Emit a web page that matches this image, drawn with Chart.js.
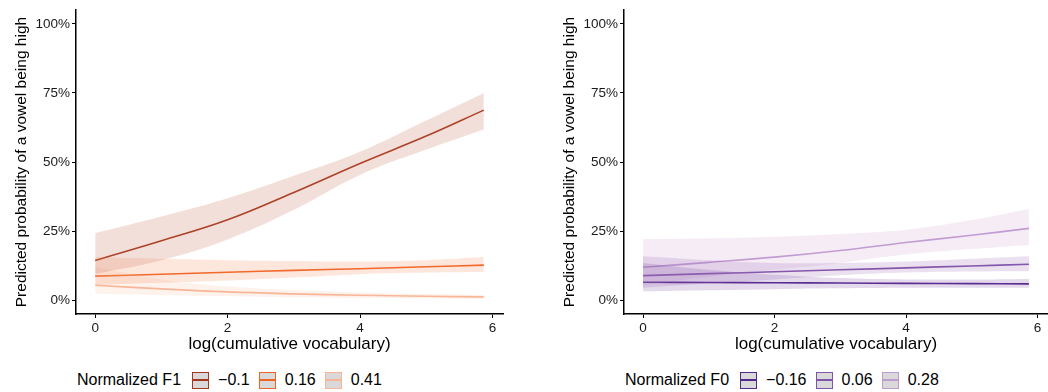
<!DOCTYPE html>
<html>
<head>
<meta charset="utf-8">
<script src="https://cdn.jsdelivr.net/npm/chart.js@4"></script>
<style>
  body { margin: 0; background: #fff; font-family: "Liberation Sans", Arial, sans-serif; }
  #wrap { position: relative; width: 1048px; height: 392px; overflow: hidden; }
  .panel { position: absolute; top: 0; height: 360px; }
  .legend { position: absolute; top: 371px; height: 18px; display: flex; align-items: center; font-size: 16px; color: #000; }
  .legend .ttl { margin-right: 11px; }
  .key { position: relative; width: 17px; height: 17px; box-sizing: border-box; border: 1.5px solid; background: #d9d9d9; margin-right: 9px; }
  .key span { position: absolute; left: 0; right: 0; top: 6.5px; height: 2px; }
  .lab { margin-right: 9px; }
</style>
</head>
<body>
<div id="wrap">
  <div class="panel" style="left:0;width:524px"><canvas id="f1"></canvas></div>
  <div class="panel" style="left:548px;width:500px"><canvas id="f0"></canvas></div>
  <div class="legend" id="legF1" style="left:77px"></div>
  <div class="legend" id="legF0" style="left:625px"></div>
</div>
<script>
// x positions where values were read (log cumulative vocabulary)
const xs = [0, 1, 2, 3, 4, 5, 5.87];

// Normalized F1 groups
const f1Labels = ['\u22120.1', '0.16', '0.41'];
const f1Colors = ['rgb(166,54,31)', 'rgb(240,100,35)', 'rgb(248,180,148)'];
const f1Fills = ['rgba(200,110,80,0.22)', 'rgba(245,130,80,0.2)', 'rgba(250,190,165,0.2)'];
const f1Mean = [
  [14.4, 21.5, 29.1, 39.0, 49.5, 59.4, 68.8],
  [8.7, 9.4, 10.1, 10.8, 11.4, 12.1, 12.7],
  [5.4, 4.1, 3.0, 2.3, 1.8, 1.4, 1.2]
];
const f1Upper = [
  [24.3, 30.3, 36.9, 45.0, 53.7, 65.0, 75.0],
  [15.5, 15.0, 14.5, 14.2, 14.0, 14.5, 15.6],
  [12.0, 7.5, 5.0, 3.6, 2.8, 2.2, 1.9]
];
const f1Lower = [
  [9.5, 14.5, 22.0, 32.7, 45.3, 54.5, 61.8],
  [5.5, 6.3, 7.1, 8.2, 9.4, 10.0, 10.2],
  [2.3, 1.8, 1.4, 1.0, 0.8, 0.6, 0.5]
];

// Normalized F0 groups
const f0Labels = ['\u22120.16', '0.06', '0.28'];
const f0Colors = ['rgb(84,39,143)', 'rgb(128,84,170)', 'rgb(190,155,210)'];
const f0Fills = ['rgba(120,70,160,0.2)', 'rgba(150,100,180,0.2)', 'rgba(210,160,210,0.2)'];
const f0Mean = [
  [6.5, 6.4, 6.3, 6.2, 6.1, 6.0, 5.9],
  [8.9, 9.6, 10.3, 11.0, 11.7, 12.4, 13.0],
  [11.9, 13.7, 15.6, 18.0, 20.9, 23.5, 26.0]
];
const f0Upper = [
  [13.5, 11.0, 9.2, 8.0, 7.5, 7.5, 7.7],
  [15.9, 14.5, 13.5, 13.5, 14.0, 15.0, 15.9],
  [22.1, 22.4, 23.0, 24.0, 25.5, 29.0, 33.0]
];
const f0Lower = [
  [3.2, 3.6, 4.0, 4.3, 4.5, 4.5, 4.5],
  [4.5, 6.0, 7.5, 9.0, 10.0, 10.4, 10.5],
  [5.5, 8.5, 11.0, 13.5, 16.5, 18.5, 20.0]
];

const xTicks = [0, 2, 4, 6];
const yTicks = [0, 25, 50, 75, 100];

const font = 'Liberation Sans, Arial, sans-serif';

function pts(vals) {
  return vals.map((v, i) => ({ x: xs[i], y: v }));
}

function buildDatasets(mean, upper, lower, colors, fills) {
  const ds = [];
  // ribbons first
  for (let g = 0; g < mean.length; g++) {
    ds.push({ data: pts(upper[g]), borderWidth: 0, pointRadius: 0, fill: '+1',
      backgroundColor: fills[g], tension: 0.4 });
    ds.push({ data: pts(lower[g]), borderWidth: 0, pointRadius: 0, fill: false, tension: 0.4 });
  }
  // then lines
  for (let g = 0; g < mean.length; g++) {
    ds.push({ data: pts(mean[g]), borderColor: colors[g], borderWidth: 1.6, pointRadius: 0,
      fill: false, tension: 0.4 });
  }
  return ds;
}

function makeChart(id, datasets, padRight) {
  const ctx = document.getElementById(id).getContext('2d');
  return new Chart(ctx, {
    type: 'line',
    data: { datasets: datasets },
    options: {
      responsive: true,
      maintainAspectRatio: false,
      animation: false,
      layout: { padding: { left: 0, right: padRight, top: 10, bottom: 0 } },
      plugins: { legend: { display: false }, tooltip: { enabled: false } },
      scales: {
        x: {
          type: 'linear',
          min: -0.29,
          max: 6.16,
          afterBuildTicks: (scale) => { scale.ticks = xTicks.map(v => ({ value: v })); },
          afterFit: (scale) => { scale.height = 46; },
          grid: { drawOnChartArea: false, drawTicks: true, tickLength: 4, color: '#000', lineWidth: 1 },
          border: { display: true, color: '#000', width: 1.5 },
          ticks: { color: '#1a1a1a', font: { family: font, size: 13.5 }, padding: 2, maxRotation: 0 },
          title: { display: true, text: 'log(cumulative vocabulary)', color: '#000',
            font: { family: font, size: 17 }, padding: { top: 0, bottom: 5 } }
        },
        y: {
          min: -5,
          max: 105,
          afterBuildTicks: (scale) => { scale.ticks = yTicks.map(v => ({ value: v })); },
          afterFit: (scale) => { scale.width = 76; },
          grid: { drawOnChartArea: false, drawTicks: true, tickLength: 4, color: '#000', lineWidth: 1 },
          border: { display: true, color: '#000', width: 1.5 },
          ticks: { color: '#1a1a1a', font: { family: font, size: 13.5 }, padding: 2,
            callback: (v) => v + '%' },
          title: { display: true, text: 'Predicted probability of a vowel being high', color: '#000',
            font: { family: font, size: 15.5 }, padding: { top: 12, bottom: 0 } }
        }
      }
    }
  });
}

makeChart('f1', buildDatasets(f1Mean, f1Upper, f1Lower, f1Colors, f1Fills), 21);
makeChart('f0', buildDatasets(f0Mean, f0Upper, f0Lower, f0Colors, f0Fills), 0);

function buildLegend(id, title, labels, colors) {
  const el = document.getElementById(id);
  let html = '<span class="ttl">' + title + '</span>';
  labels.forEach((lab, i) => {
    html += '<div class="key" style="border-color:' + colors[i] + '"><span style="background:' + colors[i] + '"></span></div>';
    html += '<span class="lab">' + lab + '</span>';
  });
  el.innerHTML = html;
}
buildLegend('legF1', 'Normalized F1', f1Labels, f1Colors);
buildLegend('legF0', 'Normalized F0', f0Labels, f0Colors);
</script>
</body>
</html>
